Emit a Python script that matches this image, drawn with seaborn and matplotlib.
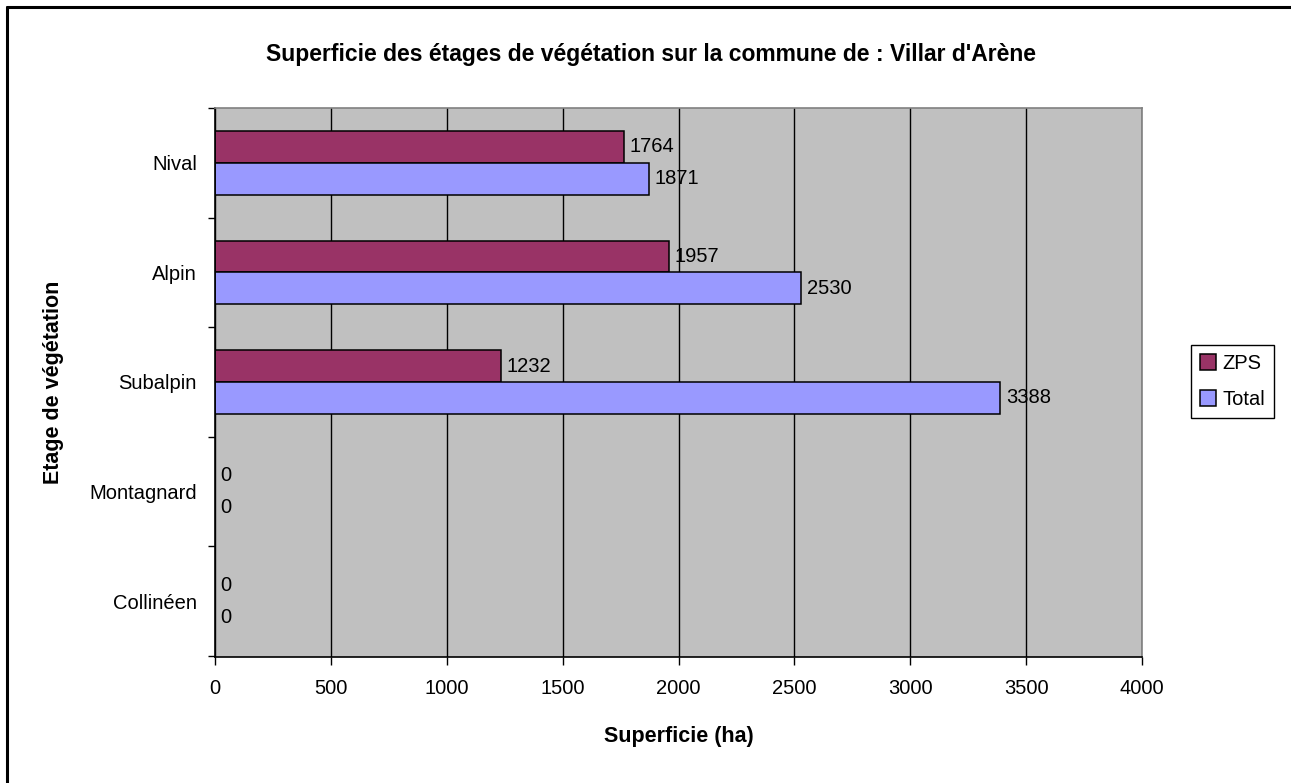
import matplotlib
matplotlib.use("Agg")
import matplotlib.pyplot as plt
from matplotlib.lines import Line2D
import seaborn as sns
import pandas as pd

# Vegetation belts, top to bottom
etages = ["Nival", "Alpin", "Subalpin", "Montagnard", "Collinéen"]
zps = [1764, 1957, 1232, 0, 0]
total = [1871, 2530, 3388, 0, 0]
series = ["ZPS", "Total"]
x_ticks = [0, 500, 1000, 1500, 2000, 2500, 3000, 3500, 4000]

df = pd.DataFrame({
    "etage": etages * 2,
    "serie": ["ZPS"] * len(etages) + ["Total"] * len(etages),
    "superficie": zps + total,
})

sns.set_theme(style="white")
plt.rcParams["font.family"] = ["Liberation Sans", "DejaVu Sans"]
plt.rcParams["text.color"] = "black"
plt.rcParams["axes.labelcolor"] = "black"
plt.rcParams["xtick.color"] = "black"
plt.rcParams["ytick.color"] = "black"

W, H = 1291, 783
fig = plt.figure(figsize=(W / 100, H / 100), dpi=100)
fig.patch.set_facecolor("white")
ax = fig.add_axes([215 / W, 1 - 657 / H, (1142 - 215) / W, (657 - 108) / H])

palette = {"ZPS": "#993366", "Total": "#9999FF"}
sns.barplot(data=df, y="etage", x="superficie", hue="serie", order=etages,
            hue_order=series, palette=palette, orient="h", width=0.58,
            edgecolor="black", linewidth=1.1, saturation=1, ax=ax, legend=True)

ax.set_facecolor("#C0C0C0")
ax.set_xlim(0, 4000)
ax.set_ylim(len(etages) - 0.5 + 0.01, -0.5 + 0.01)
ax.set_xticks(x_ticks)
ax.set_xticklabels([str(v) for v in x_ticks], fontsize=14.5)
ax.xaxis.grid(True, color="black", linewidth=1)
ax.yaxis.grid(False)
ax.set_axisbelow(True)

# Category ticks sit on the boundaries, labels in the middle
ax.set_yticks([i - 0.5 for i in range(len(etages) + 1)])
ax.set_yticklabels([])
ax.set_yticks(range(len(etages)), minor=True)
ax.set_yticklabels(etages, minor=True, fontsize=14.5)
ax.tick_params(axis="y", which="major", length=5, width=1, color="black", left=True, direction="out")
ax.tick_params(axis="y", which="minor", length=0, pad=13)
ax.tick_params(axis="x", which="major", length=6, width=1, color="black", bottom=True, direction="out", pad=10)

for side in ["left", "bottom"]:
    ax.spines[side].set_color("black")
    ax.spines[side].set_linewidth(1.2)
for side in ["top", "right"]:
    ax.spines[side].set_color("#808080")
    ax.spines[side].set_linewidth(1.2)

for cont in ax.containers:
    ax.bar_label(cont, labels=[f"{v:.0f}" for v in cont.datavalues], padding=4,
                 fontsize=14.5, color="black")

ax.set_xlabel("Superficie (ha)", fontsize=15.5, fontweight="bold", labelpad=20)
ax.set_ylabel("Etage de végétation", fontsize=15.5, fontweight="bold", labelpad=18)
fig.text(651 / W, 1 - 55 / H, "Superficie des étages de végétation sur la commune de : Villar d'Arène",
         ha="center", va="center", fontsize=16.5, fontweight="bold")

handles, labels = ax.get_legend_handles_labels()
ax.legend(handles, labels, loc="upper left", bbox_to_anchor=(1191 / W, 1 - 345 / H),
          bbox_transform=fig.transFigure, frameon=True, fancybox=False, fontsize=14.5,
          edgecolor="black", framealpha=1, handlelength=0.8, handleheight=0.8,
          handletextpad=0.3, borderpad=0.45, labelspacing=0.85, borderaxespad=0)
ax.get_legend().get_frame().set_linewidth(1)

# Outer frame (left and top edges)
fig.add_artist(Line2D([7 / W, 7 / W], [0, 1 - 7 / H], transform=fig.transFigure, color="black", linewidth=2.2))
fig.add_artist(Line2D([7 / W, 1], [1 - 7 / H, 1 - 7 / H], transform=fig.transFigure, color="black", linewidth=2.2))

fig.savefig("out.png", dpi=100)
